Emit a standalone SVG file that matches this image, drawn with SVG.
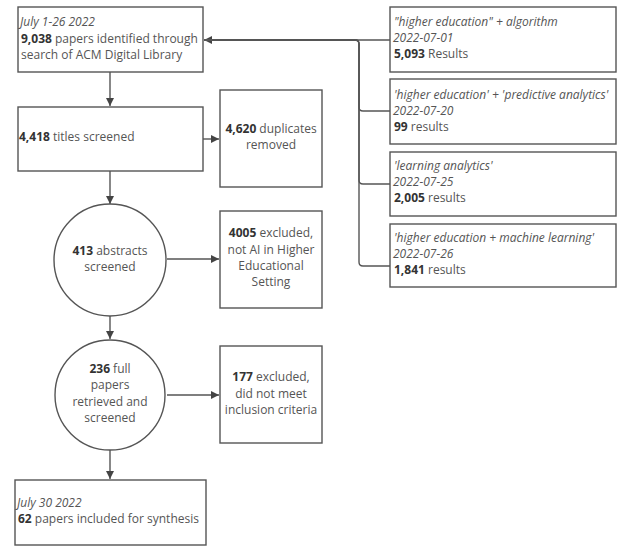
<svg xmlns="http://www.w3.org/2000/svg" width="621" height="546" viewBox="0 0 621 546">
<style>
.box{fill:#fff;stroke:#555;stroke-width:1.4}
text{font-family:"Open Sans","DejaVu Sans",sans-serif;font-size:12px;fill:#555}
.b{font-weight:700;fill:#333}
.i{font-style:italic}
.c{text-anchor:middle}
.ln{fill:none;stroke:#555;stroke-width:1.4}
</style>
<defs>
<marker id="ah" viewBox="0 0 8 8" refX="8" refY="4" markerWidth="8" markerHeight="8" markerUnits="userSpaceOnUse" orient="auto">
<path d="M0,0 L8,4 L0,8 z" fill="#444"/>
</marker>
</defs>
<rect width="621" height="546" fill="#fff"/>
<g id="connectors">
<path class="ln" d="M110,72 V106" marker-end="url(#ah)"/>
<path class="ln" d="M203,139 H219" marker-end="url(#ah)"/>
<path class="ln" d="M110,171 V204" marker-end="url(#ah)"/>
<path class="ln" d="M167,259 H219" marker-end="url(#ah)"/>
<path class="ln" d="M110,315 V339" marker-end="url(#ah)"/>
<path class="ln" d="M167,395 H219" marker-end="url(#ah)"/>
<path class="ln" d="M110,450 V479" marker-end="url(#ah)"/>
<path class="ln" d="M390,40 H204" marker-end="url(#ah)"/>
<path class="ln" d="M390,111 H363 Q359,111 359,107 V44 Q359,40 355,40 H204"/>
<path class="ln" d="M390,184 H363 Q359,184 359,180 V44 Q359,40 355,40 H204"/>
<path class="ln" d="M390,266 H363 Q359,266 359,262 V44 Q359,40 355,40 H204"/>
</g>
<g id="n1">
<rect class="box" x="18" y="7" width="185" height="65"/>
<text x="20" y="26" class="i">July 1-26 2022</text>
<text x="21" y="43"><tspan class="b">9,038</tspan> papers identified through</text>
<text x="21" y="59">search of ACM Digital Library</text>
</g>
<g id="n2">
<rect class="box" x="18" y="107" width="185" height="64"/>
<text x="19" y="141"><tspan class="b">4,418</tspan> titles screened</text>
</g>
<g id="n3">
<rect class="box" x="220" y="90" width="102" height="97"/>
<text x="271" y="133" class="c"><tspan class="b">4,620</tspan> duplicates</text>
<text x="271" y="149" class="c">removed</text>
</g>
<g id="n4">
<circle class="box" cx="110" cy="260" r="56"/>
<text x="110" y="255" class="c"><tspan class="b">413</tspan> abstracts</text>
<text x="110" y="271" class="c">screened</text>
</g>
<g id="n5">
<rect class="box" x="220" y="211" width="102" height="97"/>
<text x="271" y="237" class="c"><tspan class="b">4005</tspan> excluded,</text>
<text x="271" y="254" class="c">not AI in Higher</text>
<text x="271" y="270" class="c">Educational</text>
<text x="271" y="286" class="c">Setting</text>
</g>
<g id="n6">
<circle class="box" cx="110" cy="395" r="55"/>
<text x="110" y="373" class="c"><tspan class="b">236</tspan> full</text>
<text x="110" y="389" class="c">papers</text>
<text x="110" y="406" class="c">retrieved and</text>
<text x="110" y="422" class="c">screened</text>
</g>
<g id="n7">
<rect class="box" x="220" y="346" width="102" height="97"/>
<text x="271" y="381" class="c"><tspan class="b">177</tspan> excluded,</text>
<text x="271" y="398" class="c">did not meet</text>
<text x="271" y="414" class="c">inclusion criteria</text>
</g>
<g id="n8">
<rect class="box" x="15" y="480" width="191" height="65"/>
<text x="17" y="507" class="i">July 30 2022</text>
<text x="18" y="523"><tspan class="b">62</tspan> papers included for synthesis</text>
</g>
<g id="r1">
<rect class="box" x="390" y="7" width="226" height="65"/>
<text x="394" y="26" class="i">"higher education" + algorithm</text>
<text x="393" y="42" class="i">2022-07-01</text>
<text x="394" y="58"><tspan class="b">5,093</tspan> Results</text>
</g>
<g id="r2">
<rect class="box" x="390" y="79" width="226" height="65"/>
<text x="394" y="99" class="i">'higher education' + 'predictive analytics'</text>
<text x="393" y="115" class="i">2022-07-20</text>
<text x="394" y="131"><tspan class="b">99</tspan> results</text>
</g>
<g id="r3">
<rect class="box" x="390" y="152" width="226" height="64"/>
<text x="394" y="170" class="i">'learning analytics'</text>
<text x="393" y="186" class="i">2022-07-25</text>
<text x="394" y="202"><tspan class="b">2,005</tspan> results</text>
</g>
<g id="r4">
<rect class="box" x="390" y="224" width="226" height="63"/>
<text x="394" y="242" class="i">'higher education + machine learning'</text>
<text x="393" y="258" class="i">2022-07-26</text>
<text x="394" y="274"><tspan class="b">1,841</tspan> results</text>
</g>
</svg>
